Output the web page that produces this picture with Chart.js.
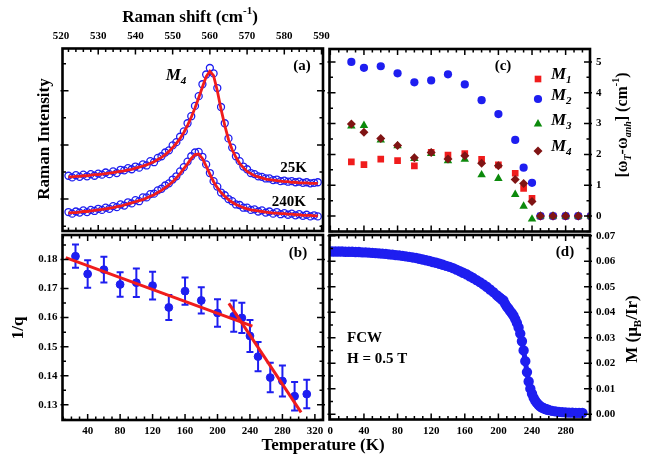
<!DOCTYPE html>
<html>
<head>
<meta charset="utf-8">
<script src="https://cdn.jsdelivr.net/npm/chart.js@4.4.1/dist/chart.umd.min.js"></script>
<style>
  body { margin: 0; background: #fff; }
  #wrap { position: relative; width: 650px; height: 462px; }
  #wrap canvas { position: absolute; left: 0; top: 0; }
</style>
</head>
<body>
<div id="wrap">
  <canvas id="chartA" width="650" height="462"></canvas>
  <canvas id="chartB" width="650" height="462"></canvas>
  <canvas id="chartC" width="650" height="462"></canvas>
  <canvas id="chartD" width="650" height="462"></canvas>
</div>
<script>
// ---- (a) Raman spectra, M4 mode ----
const ramanShift = [522,523,524,525,526,527,528,529,530,531,532,533,534,535,536,537,538,539,540,541,
  542,543,544,545,546,547,548,549,550,551,552,553,554,555,556,557,558,559,560,561,
  562,563,564,565,566,567,568,569,570,571,572,573,574,575,576,577,578,579,580,581,
  582,583,584,585,586,587,588,589];
const int25Data = [0.43,0.40,0.44,0.41,0.45,0.42,0.46,0.43,0.47,0.45,0.49,0.46,0.51,0.48,0.54,0.53,0.57,0.55,0.60,0.58,
  0.64,0.62,0.70,0.68,0.76,0.79,0.86,0.90,0.99,1.05,1.15,1.25,1.40,1.53,1.72,1.90,2.12,2.30,2.42,2.32,
  2.05,1.70,1.40,1.12,0.95,0.79,0.70,0.60,0.55,0.48,0.46,0.42,0.41,0.38,0.38,0.35,0.36,0.33,0.34,0.32,
  0.33,0.31,0.32,0.30,0.31,0.29,0.30,0.31];
const int25Fit = [0.41,0.41,0.42,0.42,0.43,0.43,0.44,0.45,0.45,0.46,0.47,0.48,0.49,0.50,0.51,0.52,0.54,0.55,0.57,0.59,
  0.61,0.63,0.66,0.69,0.73,0.77,0.82,0.88,0.95,1.03,1.12,1.23,1.36,1.51,1.68,1.87,2.07,2.26,2.36,2.28,
  2.00,1.66,1.36,1.10,0.91,0.77,0.66,0.58,0.51,0.47,0.43,0.41,0.39,0.37,0.36,0.35,0.34,0.33,0.32,0.32,
  0.31,0.31,0.30,0.30,0.30,0.29,0.29,0.29];
const int240Data = [-0.24,-0.27,-0.23,-0.25,-0.21,-0.24,-0.20,-0.22,-0.18,-0.20,-0.16,-0.18,-0.13,-0.15,-0.10,-0.12,-0.06,-0.08,-0.02,-0.04,
  0.03,0.03,0.09,0.10,0.16,0.19,0.25,0.29,0.36,0.42,0.51,0.59,0.69,0.79,0.86,0.87,0.78,0.64,0.48,0.33,
  0.23,0.12,0.07,0.00,-0.04,-0.10,-0.11,-0.16,-0.16,-0.20,-0.19,-0.23,-0.21,-0.25,-0.23,-0.27,-0.24,-0.28,-0.26,-0.29,
  -0.27,-0.30,-0.28,-0.31,-0.29,-0.32,-0.30,-0.32];
const int240Fit = [-0.26,-0.25,-0.25,-0.24,-0.23,-0.23,-0.22,-0.21,-0.20,-0.19,-0.18,-0.17,-0.16,-0.14,-0.13,-0.11,-0.09,-0.07,-0.05,-0.03,
  -0.01,0.02,0.05,0.08,0.12,0.16,0.21,0.26,0.32,0.39,0.47,0.56,0.65,0.75,0.82,0.83,0.75,0.61,0.46,0.32,
  0.21,0.12,0.05,-0.01,-0.06,-0.10,-0.13,-0.16,-0.18,-0.20,-0.21,-0.22,-0.23,-0.24,-0.25,-0.26,-0.26,-0.27,-0.27,-0.28,
  -0.28,-0.29,-0.29,-0.30,-0.30,-0.30,-0.31,-0.31];

// ---- (b) 1/q and (c) frequency shifts vs temperature ----
const tempK = [25,40,60,80,100,120,140,160,180,200,220,230,240,250,265,280,295,310];
const invQ = [0.1811,0.1750,0.1765,0.1714,0.1720,0.1710,0.1635,0.1691,0.1659,0.1616,0.1605,0.1599,0.1537,0.1466,0.1394,0.1382,0.1330,0.1337];
const invQErr = [0.0040,0.0047,0.0044,0.0042,0.0049,0.0048,0.0043,0.0047,0.0045,0.0047,0.0054,0.0052,0.0055,0.0050,0.0051,0.0053,0.0049,0.0049];
const fitLowT = [13, 243];
const fitLowQ = [0.1806, 0.1571];
const fitHighT = [214, 303];
const fitHighQ = [0.1649, 0.1274];

const shiftM1 = [1.76,1.67,1.85,1.80,1.63,2.07,1.98,2.03,1.84,1.66,1.39,0.90,0.58,0,0,0,0,0];
const shiftM2 = [5.00,4.81,4.86,4.63,4.34,4.40,4.60,4.27,3.76,3.31,2.47,1.57,1.08,0,0,0,0,0];
const shiftM3 = [2.92,2.94,2.47,2.28,1.87,2.03,1.79,1.84,1.34,1.22,0.70,0.32,-0.10,0,0,0,0,0];
const shiftM4 = [2.99,2.72,2.52,2.29,1.89,2.06,1.85,1.96,1.71,1.63,1.19,1.06,0.47,0,0,0,0,0];

// ---- (d) magnetization, FCW ----
const magT = [2,6,10,14,18,22,26,30,34,38,42,46,50,54,58,62,66,70,74,78,82,86,90,94,98,
  102,106,110,114,118,122,126,130,134,138,142,146,150,154,158,162,166,170,174,178,182,186,190,194,198,
  200,202,204,206,208,210,212,214,216,218,220,222,224,226,228,230,232,234,236,238,240,
  242,244,246,248,250,252,254,256,258,260,264,268,272,276,280,284,288,292,296,300];
const magM = [.0638,.0638,.0638,.0638,.0637,.0637,.0637,.0636,.0636,.0635,.0635,.0634,.0633,.0632,.0631,.0630,.0629,.0627,.0626,.0624,.0623,.0621,.0619,.0617,.0615,
  .0613,.0610,.0607,.0604,.0601,.0597,.0594,.0590,.0586,.0582,.0578,.0573,.0567,.0561,.0555,.0549,.0541,.0534,.0526,.0518,.0509,.0500,.0489,.0479,.0467,
  .0461,.0456,.0450,.0446,.0433,.0422,.0414,.0404,.0396,.0386,.0373,.0358,.0340,.0316,.0286,.0250,.0208,.0165,.0128,.0100,.0080,
  .0064,.0052,.0043,.0036,.0030,.0026,.0023,.0020,.0018,.0016,.0013,.0011,.0009,.0008,.0007,.0006,.0006,.0005,.0005,.0005];

// tick labels
const ramanTicks = [520,530,540,550,560,570,580,590];
const intensityTicks = [0,1,2];
const tempTicksB = [40,80,120,160,200,240,280,320];
const invQTicks = [0.13,0.14,0.15,0.16,0.17,0.18];
const tempTicksD = [0,40,80,120,160,200,240,280];
const shiftTicks = [0,1,2,3,4,5];
const magTicks = [0,0.01,0.02,0.03,0.04,0.05,0.06,0.07];

const FONT = "'Liberation Serif', 'Times New Roman', serif";
const BLUE = '#1e1ef0';
const RED = '#f01c1c';
const GREEN = '#0c8a0c';
const DARKRED = '#801414';

Chart.defaults.font.family = FONT;
Chart.defaults.color = '#000';

const pts = (xs, ys) => xs.map((x, i) => ({x: x, y: ys[i]}));

function axis(pos, min, max, ticks, size, opt) {
  opt = opt || {};
  return {
    type: 'linear', position: pos, min: min, max: max,
    grid: {display: false, drawTicks: false},
    border: {display: false},
    ticks: {
      display: opt.labels !== false,
      font: {size: 11, weight: 'bold'},
      color: '#000',
      padding: opt.pad || 5,
      maxRotation: 0, autoSkip: false,
      callback: opt.fmt || (v => v)
    },
    afterBuildTicks: s => { s.ticks = ticks.map(v => ({value: v})); },
    afterFit: s => { if (s.isHorizontal()) s.height = size; else s.width = size; }
  };
}

function minorValues(scale, step) {
  const out = [];
  for (let k = Math.ceil(scale.min / step - 1e-6); k * step <= scale.max + 1e-9; k++) out.push(k * step);
  return out;
}

// frame with inward ticks on all four sides
const frame = {
  id: 'frame',
  afterDatasetsDraw(chart, args, o) {
    const {ctx, chartArea: a} = chart;
    const xs = chart.scales.x, ys = chart.scales.y;
    const inX = v => v >= xs.min && v <= xs.max;
    const inY = v => v >= ys.min && v <= ys.max;
    ctx.save();
    ctx.strokeStyle = '#000';
    ctx.lineWidth = 1.5;
    ctx.beginPath();
    const isMajor = (s, v, step) => s.ticks.some(t => Math.abs(t.value - v) < step / 10);
    xs.ticks.forEach(t => {
      if (!inX(t.value)) return;
      const p = xs.getPixelForValue(t.value);
      ctx.moveTo(p, a.bottom); ctx.lineTo(p, a.bottom - 6);
      ctx.moveTo(p, a.top); ctx.lineTo(p, a.top + 6);
    });
    minorValues(xs, o.xMinor).forEach(v => {
      if (isMajor(xs, v, o.xMinor)) return;
      const p = xs.getPixelForValue(v);
      ctx.moveTo(p, a.bottom); ctx.lineTo(p, a.bottom - 3.5);
      ctx.moveTo(p, a.top); ctx.lineTo(p, a.top + 3.5);
    });
    ys.ticks.forEach(t => {
      if (!inY(t.value)) return;
      const p = ys.getPixelForValue(t.value);
      ctx.moveTo(a.left - 2, p); ctx.lineTo(a.left + 6, p);
      ctx.moveTo(a.right + 2, p); ctx.lineTo(a.right - 6, p);
    });
    minorValues(ys, o.yMinor).forEach(v => {
      if (isMajor(ys, v, o.yMinor)) return;
      const p = ys.getPixelForValue(v);
      ctx.moveTo(a.left, p); ctx.lineTo(a.left + 3.5, p);
      ctx.moveTo(a.right, p); ctx.lineTo(a.right - 3.5, p);
    });
    ctx.stroke();
    ctx.lineWidth = 2.6;
    ctx.strokeRect(a.left, a.top, a.width, a.height);
    ctx.restore();
  }
};

const errorBars = {
  id: 'errorBars',
  beforeDatasetsDraw(chart) {
    const {ctx} = chart;
    const x = chart.scales.x, y = chart.scales.y;
    chart.data.datasets.forEach(ds => {
      if (!ds.errors) return;
      ctx.save();
      ctx.strokeStyle = ds.borderColor;
      ctx.lineWidth = 2;
      ctx.beginPath();
      ds.data.forEach((p, i) => {
        const px = x.getPixelForValue(p.x);
        const lo = y.getPixelForValue(p.y - ds.errors[i]);
        const hi = y.getPixelForValue(p.y + ds.errors[i]);
        ctx.moveTo(px, lo); ctx.lineTo(px, hi);
        ctx.moveTo(px - 3.5, lo); ctx.lineTo(px + 3.5, lo);
        ctx.moveTo(px - 3.5, hi); ctx.lineTo(px + 3.5, hi);
      });
      ctx.stroke();
      ctx.restore();
    });
  }
};

// rich text: parts = [{t, sup, sub, i, n}] drawn centred on (x, y)
function drawRich(ctx, item) {
  const size = item.size;
  const fontOf = p => (p.i ? 'italic ' : '') + (p.n || item.n ? '' : 'bold ') +
    ((p.sup || p.sub) ? Math.round(size * 0.62) : size) + 'px ' + FONT;
  ctx.save();
  ctx.translate(item.x, item.y);
  if (item.rot) ctx.rotate(item.rot);
  ctx.textBaseline = 'middle';
  ctx.fillStyle = '#000';
  let w = 0;
  item.parts.forEach(p => { ctx.font = fontOf(p); p.w = ctx.measureText(p.t).width; w += p.w; });
  let cx = item.align === 'left' ? 0 : item.align === 'right' ? -w : -w / 2;
  item.parts.forEach(p => {
    ctx.font = fontOf(p);
    const dy = p.sup ? -size * 0.38 : p.sub ? size * 0.32 : 0;
    ctx.fillText(p.t, cx, dy);
    cx += p.w;
  });
  ctx.restore();
}

const texts = {
  id: 'texts',
  afterDraw(chart, args, o) {
    (o.items || []).forEach(it => drawRich(chart.ctx, it));
  }
};

function base(pad, extra) {
  return Object.assign({
    responsive: false, animation: false, devicePixelRatio: 1, events: [],
    layout: {padding: pad}
  }, extra);
}

const up = -Math.PI / 2;
const openCircle = {pointRadius: 3.5, borderWidth: 1.3, borderColor: BLUE, backgroundColor: 'rgba(0,0,0,0)'};

// (a)
new Chart(document.getElementById('chartA'), {
  type: 'scatter',
  data: {datasets: [
    {data: pts(ramanShift, int25Fit), showLine: true, borderColor: RED, borderWidth: 2.8, pointRadius: 0},
    {data: pts(ramanShift, int240Fit), showLine: true, borderColor: RED, borderWidth: 2.8, pointRadius: 0},
    Object.assign({data: pts(ramanShift, int25Data)}, openCircle),
    Object.assign({data: pts(ramanShift, int240Data)}, openCircle)
  ]},
  options: base({left: 0, top: 0, right: 327, bottom: 231}, {
    scales: {
      x: axis('top', 520.4, 590.4, ramanTicks, 48.5, {pad: 6}),
      y: axis('left', -0.59, 2.78, intensityTicks, 62.5, {labels: false})
    },
    plugins: {
      legend: {display: false}, tooltip: {enabled: false},
      frame: {xMinor: 2, yMinor: 0.5},
      texts: {items: [
        {parts: [{t: 'Raman shift (cm'}, {t: '-1', sup: 1}, {t: ')'}], x: 190, y: 18, size: 17},
        {parts: [{t: 'Raman Intensity'}], x: 45, y: 139, size: 17, rot: up},
        {parts: [{t: '(a)'}], x: 302, y: 66, size: 15},
        {parts: [{t: 'M', i: 1}, {t: '4', sub: 1, i: 1}], x: 176, y: 76, size: 17},
        {parts: [{t: '25K'}], x: 307, y: 168, size: 15, align: 'right'},
        {parts: [{t: '240K'}], x: 306, y: 202, size: 15, align: 'right'}
      ]}
    }
  }),
  plugins: [frame, texts]
});

// (b)
new Chart(document.getElementById('chartB'), {
  type: 'scatter',
  data: {datasets: [
    {data: pts(fitLowT, fitLowQ), showLine: true, borderColor: RED, borderWidth: 3, pointRadius: 0},
    {data: pts(fitHighT, fitHighQ), showLine: true, borderColor: RED, borderWidth: 3, pointRadius: 0},
    {data: pts(tempK, invQ), errors: invQErr, pointRadius: 3.9, borderColor: BLUE, backgroundColor: BLUE}
  ]},
  options: base({left: 0, top: 235, right: 327, bottom: 0}, {
    scales: {
      x: axis('bottom', 9, 330, tempTicksB, 42, {pad: 5}),
      y: axis('left', 0.1248, 0.1884, invQTicks, 62.5, {pad: 5, fmt: v => v.toFixed(2)})
    },
    plugins: {
      legend: {display: false}, tooltip: {enabled: false},
      frame: {xMinor: 10, yMinor: 0.005},
      texts: {items: [
        {parts: [{t: '1/q'}], x: 19, y: 328, size: 17, rot: up},
        {parts: [{t: '(b)'}], x: 298, y: 253, size: 15},
        {parts: [{t: 'Temperature (K)'}], x: 323, y: 446, size: 17}
      ]}
    }
  }),
  plugins: [frame, errorBars, texts]
});

// (c)
new Chart(document.getElementById('chartC'), {
  type: 'scatter',
  data: {datasets: [
    {data: pts(tempK, shiftM4), pointStyle: 'rectRot', pointRadius: 4.5, borderWidth: 0, backgroundColor: DARKRED, borderColor: DARKRED},
    {data: pts(tempK, shiftM3), pointStyle: 'triangle', pointRadius: 4.9, borderWidth: 0, backgroundColor: GREEN, borderColor: GREEN},
    {data: pts(tempK, shiftM2), pointStyle: 'circle', pointRadius: 4.1, borderWidth: 0, backgroundColor: BLUE, borderColor: BLUE},
    {data: pts(tempK, shiftM1), pointStyle: 'rect', pointRadius: 4.7, borderWidth: 0, backgroundColor: RED, borderColor: RED}
  ]},
  options: base({left: 329.5, top: 49, right: 0, bottom: 0}, {
    scales: {
      x: axis('bottom', -1, 309, tempTicksD, 230.5, {labels: false}),
      y: axis('right', -0.5, 5.42, shiftTicks, 60, {pad: 6})
    },
    plugins: {
      legend: {display: false}, tooltip: {enabled: false},
      frame: {xMinor: 10, yMinor: 0.5},
      texts: {items: [
        {parts: [{t: '(c)'}], x: 503, y: 66, size: 15},
        {parts: [{t: 'M', i: 1}, {t: '1', sub: 1, i: 1}], x: 551, y: 75, size: 17, align: 'left'},
        {parts: [{t: 'M', i: 1}, {t: '2', sub: 1, i: 1}], x: 551, y: 96, size: 17, align: 'left'},
        {parts: [{t: 'M', i: 1}, {t: '3', sub: 1, i: 1}], x: 551, y: 121, size: 17, align: 'left'},
        {parts: [{t: 'M', i: 1}, {t: '4', sub: 1, i: 1}], x: 551, y: 147, size: 17, align: 'left'},
        {parts: [{t: '[\u03c9'}, {t: 'T', sub: 1, i: 1}, {t: '-\u03c9'}, {t: 'anh', sub: 1, i: 1}, {t: '] (cm'}, {t: '-1', sup: 1}, {t: ')'}],
          x: 623, y: 125, size: 16, rot: up}
      ]}
    }
  }),
  plugins: [frame, texts]
});

// (d)
new Chart(document.getElementById('chartD'), {
  type: 'scatter',
  data: {datasets: [
    {data: pts(magT, magM), showLine: true, borderColor: BLUE, borderWidth: 5, pointRadius: 2.7, backgroundColor: BLUE}
  ]},
  options: base({left: 329.5, top: 235, right: 0, bottom: 0}, {
    scales: {
      x: axis('bottom', -1, 309, tempTicksD, 42.5, {pad: 5}),
      y: axis('right', -0.0021, 0.0703, magTicks, 60, {pad: 6, fmt: v => v.toFixed(2)})
    },
    plugins: {
      legend: {display: false}, tooltip: {enabled: false},
      frame: {xMinor: 10, yMinor: 0.005},
      texts: {items: [
        {parts: [{t: '(d)'}], x: 565, y: 252, size: 15},
        {parts: [{t: 'FCW'}], x: 347, y: 338, size: 15, align: 'left'},
        {parts: [{t: 'H = 0.5 T'}], x: 347, y: 359, size: 15, align: 'left'},
        {parts: [{t: 'M (\u03bc'}, {t: 'B', sub: 1}, {t: '/Ir)'}], x: 633, y: 329, size: 17, rot: up}
      ]}
    }
  }),
  plugins: [frame, texts]
});

// legend markers for (c), drawn with Chart.js point helper
(function () {
  const ctx = document.getElementById('chartC').getContext('2d');
  const marks = [
    ['rect', 4.7, RED, 538, 79],
    ['circle', 4.1, BLUE, 538, 99],
    ['triangle', 4.9, GREEN, 538, 124],
    ['rectRot', 4.5, DARKRED, 538, 151]
  ];
  marks.forEach(m => {
    ctx.save();
    ctx.fillStyle = m[2];
    ctx.strokeStyle = m[2];
    Chart.helpers.drawPoint(ctx, {pointStyle: m[0], radius: m[1], rotation: 0, borderWidth: 0}, m[3], m[4]);
    ctx.restore();
  });
})();
</script>
</body>
</html>
